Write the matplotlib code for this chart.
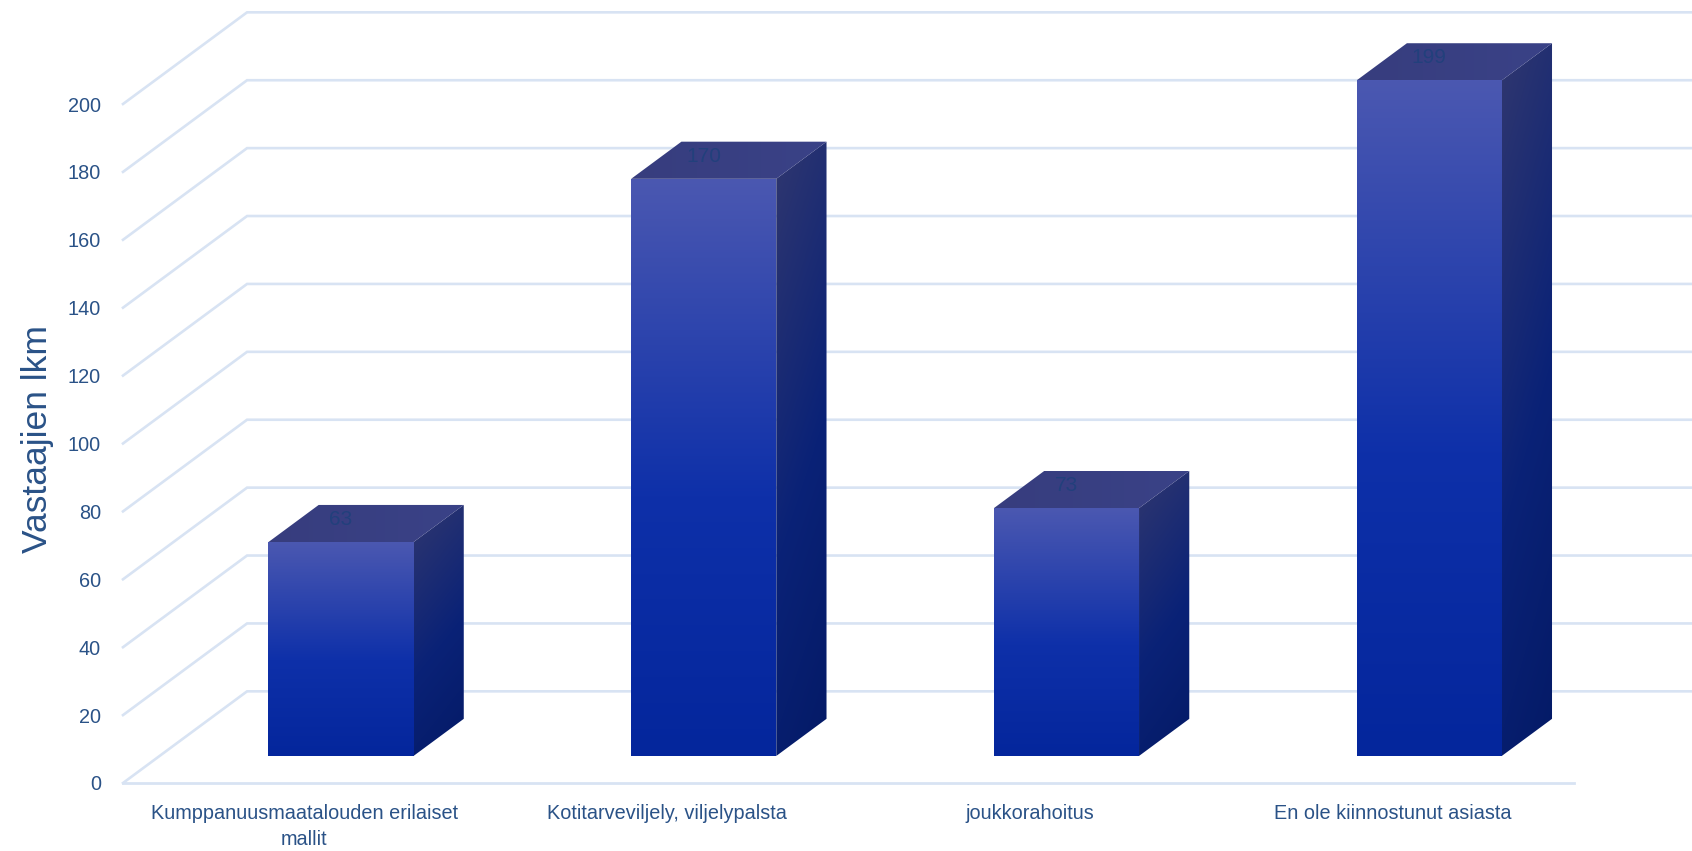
import matplotlib
matplotlib.use("Agg")
import matplotlib.pyplot as plt
import numpy as np
from matplotlib.colors import LinearSegmentedColormap
from matplotlib.patches import Polygon

categories = [
    "Kumppanuusmaatalouden erilaiset\nmallit",
    "Kotitarveviljely, viljelypalsta",
    "joukkorahoitus",
    "En ole kiinnostunut asiasta",
]
values = [63, 170, 73, 199]
y_ticks = [0, 20, 40, 60, 80, 100, 120, 140, 160, 180, 200]
y_label = "Vastaajien lkm"

TEXT = "#2a5287"
GRID = "#d8e3f3"

# oblique projection: one unit of depth in data units
DEPTH_X = 0.342
DEPTH_Y = 27.0
BAR_W = 0.4
D0, D1 = 0.295, 0.70

front_cmap = LinearSegmentedColormap.from_list(
    "front", [(0, "#4b58b1"), (0.55, "#0e30a9"), (1, "#04269c")]
)
side_cmap = LinearSegmentedColormap.from_list(
    "side", [(0, "#30376f"), (0.55, "#0a2277"), (1, "#041a66")]
)
top_cmap = LinearSegmentedColormap.from_list("top", ["#373d7e", "#3a4287"])


def proj(x, v, d):
    return x + d * DEPTH_X, v + d * DEPTH_Y


def gradient_face(ax, pts, cmap, mode):
    # fill a polygon with a gradient image, clipped to the polygon
    pts = np.array(pts)
    poly = Polygon(pts, closed=True, transform=ax.transData, fc="none", ec="none")
    ax.add_patch(poly)
    yy, xx = np.mgrid[0:1:256j, 0:1:64j]
    if mode == "v":
        g = yy
    elif mode == "h":
        g = xx
    else:
        g = 0.8 * yy + 0.2 * xx
    im = ax.imshow(
        g,
        cmap=cmap,
        vmin=0,
        vmax=1,
        aspect="auto",
        origin="upper",
        extent=(pts[:, 0].min(), pts[:, 0].max(), pts[:, 1].min(), pts[:, 1].max()),
        zorder=3,
        interpolation="bilinear",
    )
    im.set_clip_box(ax.figure.bbox)
    im.set_clip_path(poly)


plt.rcParams["font.family"] = ["Liberation Sans", "DejaVu Sans"]

fig = plt.figure(figsize=(16.92, 8.51), dpi=100)
ax = fig.add_axes([123 / 1692, 1 - 783 / 851, 1451 / 1692, 679 / 851])
ax.set_frame_on(False)

x0, x1 = -0.5, 3.5

# floor edge and back wall
ax.plot([x0, x1], [0, 0], color=GRID, lw=2.0, zorder=1, clip_on=False)
for t in y_ticks:
    bx, by = proj(x0, t, 1)
    ex, _ = proj(x1, t, 1)
    ax.plot([x0, bx, ex], [t, by, by], color=GRID, lw=1.9, zorder=1, clip_on=False,
            solid_joinstyle="miter")

# bars
for i, v in enumerate(values):
    l = i - BAR_W / 2
    r = i + BAR_W / 2
    a = proj(l, 0, D0)
    b = proj(r, 0, D0)
    c = proj(r, v, D0)
    d = proj(l, v, D0)
    e = proj(r, 0, D1)
    f = proj(r, v, D1)
    g = proj(l, v, D1)
    gradient_face(ax, [a, b, c, d], front_cmap, "v")
    gradient_face(ax, [b, e, f, c], side_cmap, "d")
    gradient_face(ax, [d, c, f, g], top_cmap, "h")
    lx, ly = proj(i, v, D0)
    ax.text(lx, ly + 6.6, str(v), ha="center", va="center", fontsize=15,
            color="#22407c", zorder=5)

ax.set_xlim(x0, x1)
ax.set_ylim(0, 200)
ax.set_xticks(range(len(categories)))
ax.set_xticklabels(categories, fontsize=14.3, color=TEXT, linespacing=1.5)
ax.set_yticks(y_ticks)
ax.tick_params(axis="y", length=0, pad=16, labelsize=14.3, labelcolor=TEXT)
ax.tick_params(axis="x", length=0, pad=15)

fig.text(37 / 1692, 1 - 439 / 851, y_label, rotation=90, ha="center", va="center",
         fontsize=25.5, color=TEXT)

fig.savefig("out.png", dpi=100)
plt.close(fig)
